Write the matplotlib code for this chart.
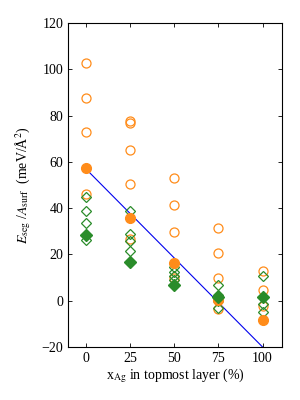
import matplotlib
matplotlib.use("Agg")

import matplotlib.pyplot as plt

plt.rcParams["font.family"] = ["Liberation Serif", "DejaVu Serif"]
plt.rcParams["mathtext.fontset"] = "stix"

ORANGE = "#ff8c1a"
GREEN = "#2a8c2a"

# open orange circles
orange_open_x = [0, 0, 0, 0,
                 25, 25, 25, 25, 25,
                 50, 50, 50, 50,
                 75, 75, 75, 75,
                 100, 100, 100]
orange_open_y = [102.7, 87.6, 72.7, 46.2,
                 77.6, 77.0, 65.0, 50.4, 26.5,
                 53.2, 41.4, 29.6, 10.0,
                 31.3, 20.5, 9.6, -3.7,
                 13.0, 4.5, -2.4]

# filled orange circles
orange_fill_x = [0, 25, 50, 75, 100]
orange_fill_y = [57.5, 35.8, 16.4, 0.3, -8.4]

# open green diamonds
green_open_x = [0, 0, 0, 0,
                25, 25, 25, 25,
                50, 50, 50, 50,
                75, 75, 75, 75,
                100, 100, 100]
green_open_y = [44.6, 38.9, 33.7, 26.3,
                38.9, 29.0, 26.0, 21.3,
                14.6, 12.6, 10.6, 9.0,
                6.9, 2.5, 0.0, -3.2,
                10.6, -1.6, -4.8]

# filled green diamonds
green_fill_x = [0, 25, 50, 75, 100]
green_fill_y = [28.3, 16.6, 6.9, 1.8, 1.4]

# linear trend
line_x = [0, 100]
line_y = [57.0, -20.0]

fig = plt.figure(figsize=(3, 4), dpi=100)
ax = fig.add_axes([0.227, 0.1325, 0.713, 0.81])

ax.plot(line_x, line_y, color="#0000ee", linewidth=0.8, zorder=1)
ax.plot(orange_open_x, orange_open_y, "o", mfc="none", mec=ORANGE, ms=6.5, mew=0.9, zorder=2)
ax.plot(green_open_x, green_open_y, "D", mfc="none", mec=GREEN, ms=5.3, mew=0.9, zorder=2)
ax.plot(orange_fill_x, orange_fill_y, "o", color=ORANGE, ms=7, zorder=3)
ax.plot(green_fill_x, green_fill_y, "D", color=GREEN, ms=5.8, zorder=3)

ax.set_xlim(-10, 111)
ax.set_ylim(-20, 120)
ax.set_xticks([0, 25, 50, 75, 100])
ax.set_yticks([-20, 0, 20, 40, 60, 80, 100, 120])
ax.tick_params(direction="in", top=True, right=True, labelsize=10, length=3, width=0.6)
for s in ax.spines.values():
    s.set_linewidth(0.8)

ax.set_xlabel(r"x$_{\mathrm{Ag}}$ in topmost layer (%)", fontsize=10, labelpad=1)
ax.set_ylabel(r"$E_{\mathrm{seg}}$ /$A_{\mathrm{surf}}$  (meV/Å$^2$)", fontsize=10, labelpad=6)

fig.savefig("out.png", dpi=100)
